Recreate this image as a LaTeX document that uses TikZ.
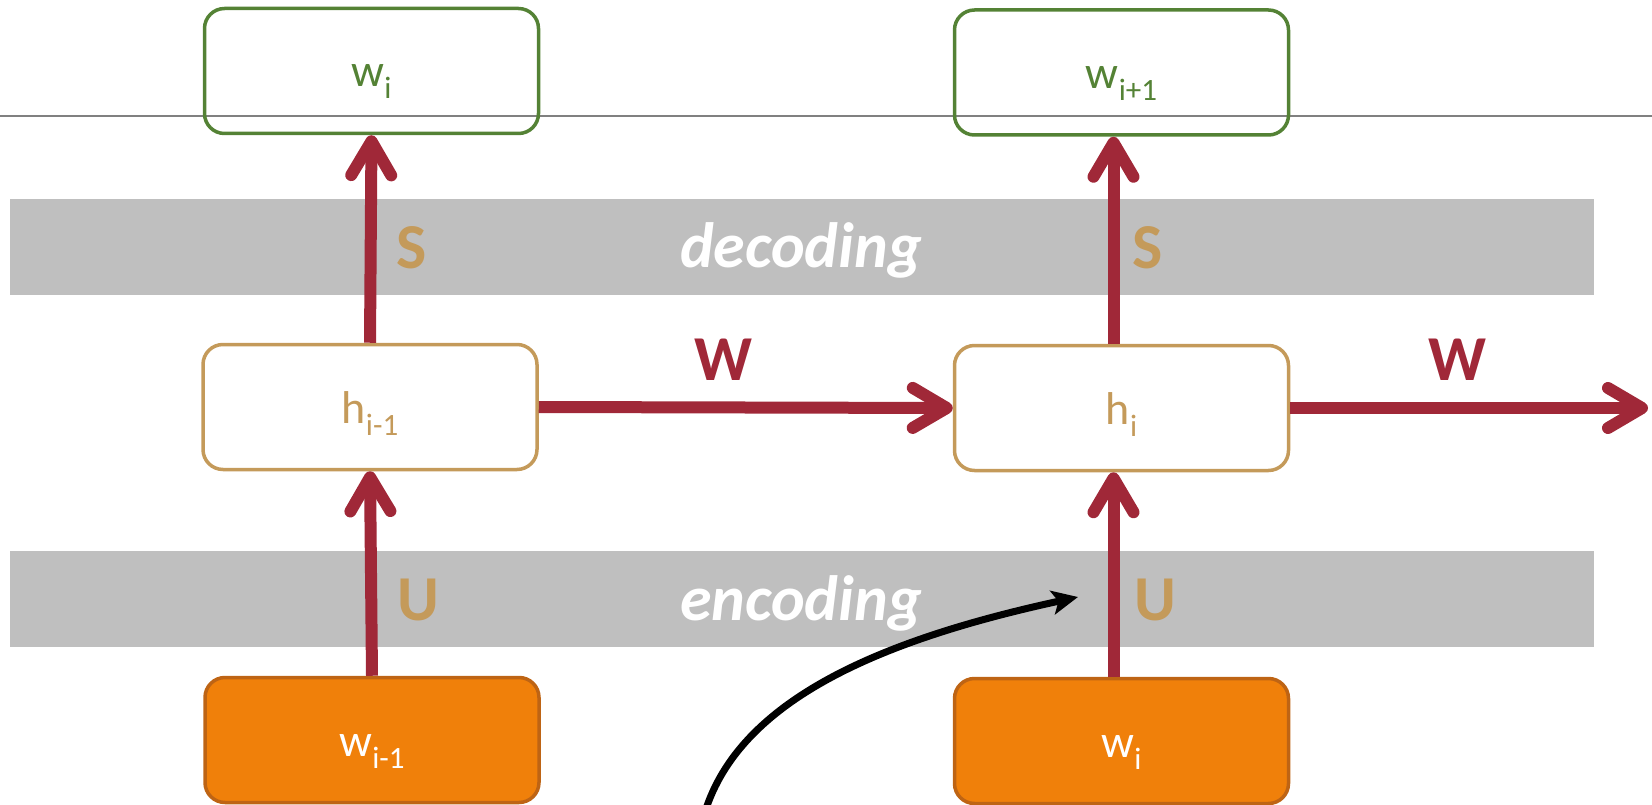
\documentclass[tikz,border=0pt]{standalone}
\usepackage{fontspec}
\setmainfont{Carlito}
\usepackage{tikz}
\usetikzlibrary{arrows.meta}

\definecolor{arrowred}{RGB}{160,40,56}
\definecolor{tan}{RGB}{196,154,90}
\definecolor{boxgreen}{RGB}{84,130,53}
\definecolor{boxorange}{RGB}{240,128,10}
\definecolor{orangeline}{RGB}{190,100,20}
\definecolor{bandgrey}{RGB}{191,191,191}

\newcommand{\wl}[2]{#1\raisebox{-12pt}{\fontsize{31}{31}\selectfont #2}}

\begin{document}
\begin{tikzpicture} [x=1pt,y=-1pt,
  box/.style={rounded corners=20pt, line width=3.5pt, minimum width=334pt, minimum height=125pt,
    inner sep=0pt, text height=32pt, text depth=0pt, font=\fontsize{46}{46}\selectfont},
  outbox/.style={box, draw=boxgreen, text=boxgreen},
  hidbox/.style={box, draw=tan, fill=white, text=tan},
  inbox/.style={box, draw=orangeline, fill=boxorange, text=white},
  flow/.style={arrowred, line width=12pt, -{Straight Barb[length=34pt,width=40pt,round]}},
  pointer/.style={black, line width=7pt, -{Stealth[length=26pt,width=24pt,inset=6pt]}},
  matlabel/.style={font=\fontsize{64}{64}\bfseries, inner sep=0pt},
  bandtext/.style={white, anchor=base, inner sep=0pt, font=\fontsize{64}{64}\bfseries\itshape}]
\clip (0,0) rectangle (1652,805);

\fill[bandgrey] (10,199) rectangle (1594,295);
\fill[bandgrey] (10,551) rectangle (1594,647);
\draw[gray, line width=1.5pt] (0,116) -- (1652,116);

\node[bandtext] (dec) at (801,268) {decoding};
\node[bandtext] (enc) at (801,620) {encoding};

\node[outbox] (wout1) at (371.5,71) {\wl{w}{i}};
\node[outbox] (wout2) at (1121.5,72.5) {\wl{w}{i+1}};
\node[hidbox] (hprev) at (370,407) {\wl{h}{i-1}};
\node[hidbox] (hcur) at (1121.5,408) {\wl{h}{i}};
\node[inbox] (wprev) at (372,740) {\wl{w}{i-1}};
\node[inbox] (wcur) at (1121.5,741) {\wl{w}{i}};
\coordinate (wend) at (1648,408);

\draw[flow] (wprev.north) -- (hprev.south);
\draw[flow] (hprev.north) -- (wout1.south);
\draw[flow] ([xshift=-8pt]wcur.north) -- ([xshift=-8pt]hcur.south);
\draw[flow] ([xshift=-8pt]hcur.north) -- ([xshift=-8pt]wout2.south);
\draw[flow] (hprev.east) -- (hcur.west);
\draw[flow] (hcur.east) -- (wend);

\node[matlabel, tan] (s1) at (412,248) {S};
\node[matlabel, tan] (s2) at (1148,248) {S};
\node[matlabel, tan] (u1) at (418,600) {U};
\node[matlabel, tan] (u2) at (1155,600) {U};
\node[matlabel, arrowred] (w1) at (723,360) {W};
\node[matlabel, arrowred] (w2) at (1457,360) {W};

% pointer into the encoding step
\coordinate (cstart) at (705,812);
\coordinate (ctip) at (1078,597);
\draw[pointer] (cstart) .. controls (740,700) and (880,640) .. (ctip);

\end{tikzpicture}
\end{document}
